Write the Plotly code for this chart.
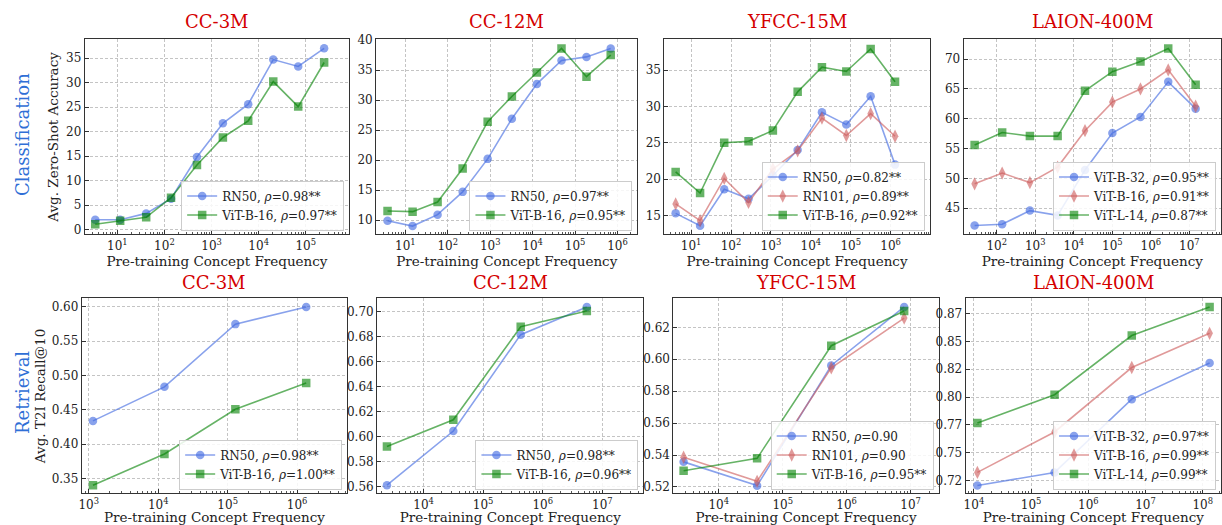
import plotly.graph_objects as go

W, H = 1222, 525

# ---------------- data ----------------
# Classification (top row)
cc3m_cls_freq = [3.4, 11.5, 41, 138, 490, 1740, 6000, 20400, 69000, 245000]
cc3m_cls_rn50 = [2.0, 2.0, 3.3, 6.3, 14.8, 21.7, 25.6, 34.7, 33.3, 37.0]
cc3m_cls_vitb16 = [1.1, 1.8, 2.5, 6.5, 13.2, 18.8, 22.2, 30.2, 25.1, 34.1]

cc12m_cls_freq = [3.8, 14.8, 57.5, 224, 870, 3240, 12600, 47900, 186000, 692000]
cc12m_cls_rn50 = [9.9, 9.0, 10.9, 14.7, 20.2, 26.9, 32.7, 36.6, 37.2, 38.6]
cc12m_cls_vitb16 = [11.5, 11.4, 13.0, 18.6, 26.4, 30.6, 34.6, 38.6, 33.9, 37.5]

yfcc_cls_freq = [4.1, 16.8, 67.6, 275, 1120, 4680, 19000, 77600, 316000, 1290000]
yfcc_cls_rn50 = [15.3, 13.6, 18.6, 17.3, 20.5, 24.0, 29.2, 27.5, 31.4, 22.0]
yfcc_cls_rn101 = [16.6, 14.3, 20.1, 16.8, 21.4, 23.9, 28.4, 26.0, 29.0, 25.9]
yfcc_cls_vitb16 = [21.0, 18.1, 25.0, 25.2, 26.7, 32.0, 35.4, 34.8, 37.9, 33.4]

laion_cls_freq = [26.6, 138, 724, 3800, 19500, 100000, 537000, 2820000, 14500000]
laion_cls_vitb32 = [42.1, 42.3, 44.6, 43.8, 51.4, 57.6, 60.3, 66.2, 61.7]
laion_cls_vitb16 = [49.1, 50.9, 49.3, 51.9, 58.0, 62.8, 65.0, 68.2, 62.1]
laion_cls_vitl14 = [55.6, 57.7, 57.1, 57.1, 64.7, 67.9, 69.6, 71.8, 65.7]

# Retrieval (bottom row)
cc3m_ret_freq = [1150, 12300, 129000, 1350000]
cc3m_ret_rn50 = [0.434, 0.4835, 0.5747, 0.5995]
cc3m_ret_vitb16 = [0.3404, 0.3859, 0.4509, 0.4891]

cc12m_ret_freq = [2430, 31600, 427000, 5500000]
cc12m_ret_rn50 = [0.5613, 0.6046, 0.6816, 0.7037]
cc12m_ret_vitb16 = [0.5923, 0.6136, 0.6879, 0.7005]

yfcc_ret_freq = [2820, 39800, 575000, 7940000]
yfcc_ret_rn50 = [0.5357, 0.5208, 0.5961, 0.6328]
yfcc_ret_rn101 = [0.5386, 0.5235, 0.5946, 0.6258]
yfcc_ret_vitb16 = [0.5301, 0.5379, 0.6085, 0.6303]

laion_ret_freq = [11500, 257000, 5750000, 132000000]
laion_ret_vitb32 = [0.7206, 0.7324, 0.7982, 0.8307]
laion_ret_vitb16 = [0.7324, 0.7687, 0.8266, 0.8573]
laion_ret_vitl14 = [0.7768, 0.8022, 0.8553, 0.8809]

dataset_titles = ["CC-3M", "CC-12M", "YFCC-15M", "LAION-400M"]
laion_ret_ticks = [0.725, 0.75, 0.775, 0.80, 0.825, 0.85, 0.875]
laion_ret_ticktext = ["0.72", "0.75", "0.77", "0.80", "0.82", "0.85", "0.87"]
# decade exponents labelled on the log x axes
x_exponents = [0, 1, 2, 3, 4, 5, 6, 7, 8, 9]

# ---------------- styles ----------------
FONT = "DejaVu Serif"
STY = {
    "blue": dict(color="rgba(65,105,225,0.62)", symbol="circle", size=8.5),
    "red": dict(color="rgba(205,92,92,0.62)", symbol="diamond-tall", size=9.5),
    "green": dict(color="rgba(0,128,0,0.6)", symbol="square", size=8.5),
}

# panel pixel boxes: (x0, x1, y0, y1)
top_y = (34, 232)
bot_y = (297, 495)
boxes = [
    (82, 347) + top_y, (374, 636) + top_y, (663, 929) + top_y, (963, 1221) + top_y,
    (79, 345) + bot_y, (375, 642) + bot_y, (672, 938) + bot_y, (965, 1221) + bot_y,
]

panels = [
    dict(freq=cc3m_cls_freq, series=[("RN50, <i>ρ</i>=0.98**", cc3m_cls_rn50, "blue"),
                                     ("ViT-B-16, <i>ρ</i>=0.97**", cc3m_cls_vitb16, "green")],
         xr=[0.31, 5.92], yr=[-1.0, 38.8], dtick=5, fmt=None),
    dict(freq=cc12m_cls_freq, series=[("RN50, <i>ρ</i>=0.97**", cc12m_cls_rn50, "blue"),
                                      ("ViT-B-16, <i>ρ</i>=0.95**", cc12m_cls_vitb16, "green")],
         xr=[0.31, 6.47], yr=[7.6, 40.1], dtick=5, fmt=None),
    dict(freq=yfcc_cls_freq, series=[("RN50, <i>ρ</i>=0.82**", yfcc_cls_rn50, "blue"),
                                     ("RN101, <i>ρ</i>=0.89**", yfcc_cls_rn101, "red"),
                                     ("ViT-B-16, <i>ρ</i>=0.92**", yfcc_cls_vitb16, "green")],
         xr=[0.33, 6.98], yr=[12.4, 39.2], dtick=5, fmt=None),
    dict(freq=laion_cls_freq, series=[("ViT-B-32, <i>ρ</i>=0.95**", laion_cls_vitb32, "blue"),
                                      ("ViT-B-16, <i>ρ</i>=0.91**", laion_cls_vitb16, "red"),
                                      ("ViT-L-14, <i>ρ</i>=0.87**", laion_cls_vitl14, "green")],
         xr=[1.14, 7.82], yr=[40.6, 73.3], dtick=5, fmt=None),
    dict(freq=cc3m_ret_freq, series=[("RN50, <i>ρ</i>=0.98**", cc3m_ret_rn50, "blue"),
                                     ("ViT-B-16, <i>ρ</i>=1.00**", cc3m_ret_vitb16, "green")],
         xr=[2.90, 6.72], yr=[0.3285, 0.612], dtick=0.05, fmt=".2f"),
    dict(freq=cc12m_ret_freq, series=[("RN50, <i>ρ</i>=0.98**", cc12m_ret_rn50, "blue"),
                                      ("ViT-B-16, <i>ρ</i>=0.96**", cc12m_ret_vitb16, "green")],
         xr=[3.22, 7.69], yr=[0.5547, 0.7105], dtick=0.02, fmt=".2f"),
    dict(freq=yfcc_ret_freq, series=[("RN50, <i>ρ</i>=0.90", yfcc_ret_rn50, "blue"),
                                     ("RN101, <i>ρ</i>=0.90", yfcc_ret_rn101, "red"),
                                     ("ViT-B-16, <i>ρ</i>=0.95**", yfcc_ret_vitb16, "green")],
         xr=[3.29, 7.44], yr=[0.5159, 0.6381], dtick=0.02, fmt=".2f"),
    dict(freq=laion_ret_freq, series=[("ViT-B-32, <i>ρ</i>=0.97**", laion_ret_vitb32, "blue"),
                                      ("ViT-B-16, <i>ρ</i>=0.99**", laion_ret_vitb16, "red"),
                                      ("ViT-L-14, <i>ρ</i>=0.99**", laion_ret_vitl14, "green")],
         xr=[3.855, 8.32], yr=[0.7135, 0.8886], dtick=None, fmt=None,
         tickvals=laion_ret_ticks, ticktext=laion_ret_ticktext),
]

fig = go.Figure()
layout = dict(
    width=W, height=H, margin=dict(l=0, r=0, t=0, b=0),
    paper_bgcolor="white", plot_bgcolor="white",
    font=dict(family=FONT, size=12, color="#222222"),
    showlegend=True,
)
annotations = []

for i, (p, box) in enumerate(zip(panels, boxes)):
    k = i + 1
    xa = "x" if k == 1 else f"x{k}"
    ya = "y" if k == 1 else f"y{k}"
    lg = "legend" if k == 1 else f"legend{k}"
    x0, x1, y0, y1 = box
    for name, vals, c in p["series"]:
        s = STY[c]
        fig.add_trace(go.Scatter(
            x=p["freq"], y=vals, name=name, mode="lines+markers",
            xaxis=xa, yaxis=ya, legend=lg,
            line=dict(color=s["color"], width=1.6),
            marker=dict(color=s["color"], symbol=s["symbol"], size=s["size"],
                        line=dict(width=0)),
        ))
    axis_common = dict(showline=True, linecolor="#333333", linewidth=1, mirror=True,
                       ticks="inside", ticklen=4, tickcolor="#333333",
                       showgrid=True, gridcolor="#c4c4c4", griddash="3px,2px", gridwidth=0.8,
                       zeroline=False,
                       tickfont=dict(family=FONT, size=12, color="#222222"))
    xkey = "xaxis" if k == 1 else f"xaxis{k}"
    ykey = "yaxis" if k == 1 else f"yaxis{k}"
    layout[xkey] = dict(axis_common, type="log", range=p["xr"],
                        tickmode="array",
                        tickvals=[10 ** e for e in x_exponents],
                        ticktext=[f"10<sup>{e}</sup>" for e in x_exponents],
                        anchor=ya,
                        domain=[x0 / W, x1 / W],
                        minor=dict(ticks="inside", ticklen=2, tickcolor="#555555", showgrid=False,
                                   tickvals=[m * 10 ** e for e in x_exponents for m in range(2, 10)]),
                        title=dict(text="Pre-training Concept Frequency",
                                   font=dict(family=FONT, size=13.5, color="#222222"),
                                   standoff=4))
    yax = dict(axis_common, range=p["yr"], anchor=xa, domain=[1 - y1 / H, 1 - y0 / H])
    if p.get("tickvals"):
        yax.update(tickmode="array", tickvals=p["tickvals"], ticktext=p["ticktext"])
    else:
        yax.update(dtick=p["dtick"])
        if p["fmt"]:
            yax.update(tickformat=p["fmt"])
    if k == 1:
        yax["title"] = dict(text="Avg. Zero-Shot Accuracy",
                            font=dict(family=FONT, size=13.5, color="#222222"), standoff=4)
    if k == 5:
        yax["title"] = dict(text="Avg. T2I Recall@10",
                            font=dict(family=FONT, size=13.5, color="#222222"), standoff=2)
    layout[ykey] = yax
    layout[lg] = dict(x=(x1 - 5) / W, y=1 - (y1 - 4) / H, xanchor="right", yanchor="bottom",
                      xref="paper", yref="paper",
                      bgcolor="rgba(255,255,255,0.85)", bordercolor="#cccccc", borderwidth=1,
                      font=dict(family=FONT, size=12, color="#222222"),
                      itemwidth=30, tracegroupgap=0)
    # panel title
    ty = y0 - 6 if k <= 4 else y0 - 4
    annotations.append(dict(text=dataset_titles[i % 4], x=(x0 + x1) / 2 / W,
                            y=1 - ty / H, xref="paper", yref="paper",
                            xanchor="center", yanchor="bottom", showarrow=False,
                            font=dict(family=FONT, size=18, color="#d40000")))

annotations.append(dict(text="Classification", x=19 / W, y=1 - 130 / H, xref="paper", yref="paper",
                        textangle=-90, showarrow=False, xanchor="center", yanchor="middle",
                        font=dict(family=FONT, size=18, color="#2f6fd6")))
annotations.append(dict(text="Retrieval", x=19 / W, y=1 - 392 / H, xref="paper", yref="paper",
                        textangle=-90, showarrow=False, xanchor="center", yanchor="middle",
                        font=dict(family=FONT, size=18, color="#2f6fd6")))
layout["annotations"] = annotations
fig.update_layout(**layout)
fig.write_html("out.html", config={"displayModeBar": False},
               post_script="document.body.style.margin='0';document.body.style.overflow='hidden';")
